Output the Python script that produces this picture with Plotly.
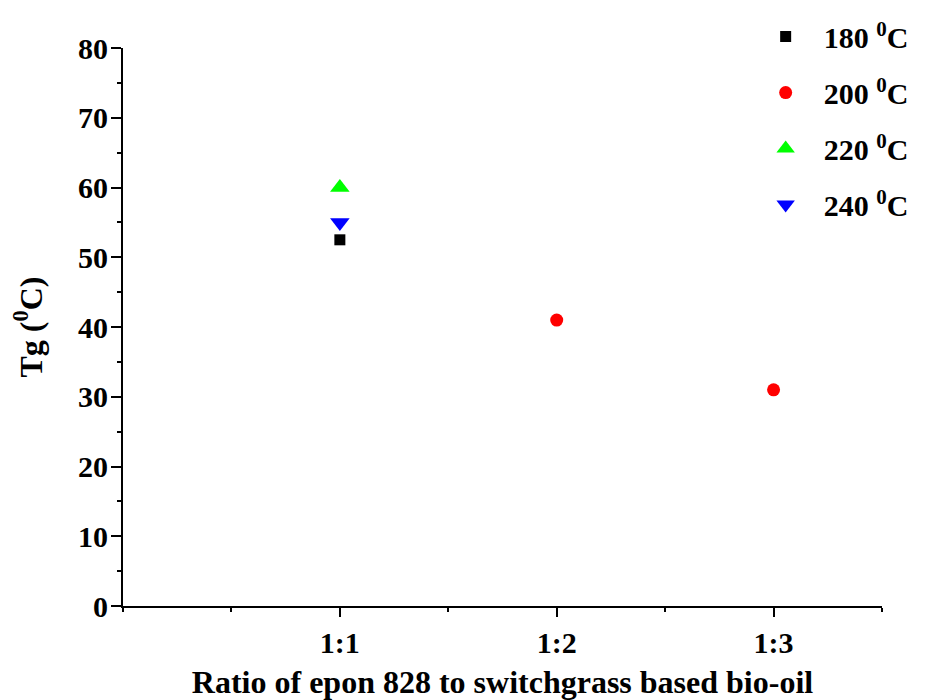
import plotly.graph_objects as go

# Data
ratio_labels = ["1:1", "1:2", "1:3"]
ratio_pos = [1, 2, 3]

series_names = ["180 <sup>0</sup>C", "200 <sup>0</sup>C", "220 <sup>0</sup>C", "240 <sup>0</sup>C"]
series_x = [[1], [2, 3], [1], [1]]
series_y = [[52.5], [41.0, 31.0], [60.0], [55.0]]

colors = ["#000000", "#ff0000", "#00ff00", "#0000ff"]
symbols = ["square", "circle", "triangle-up", "triangle-down"]
sizes = [11, 13, 17, 17]

FONT = "Liberation Serif"

fig = go.Figure()
for i, name in enumerate(series_names):
    fig.add_trace(go.Scatter(
        x=series_x[i], y=series_y[i], mode="markers", name=name,
        legendgroup=f"g{i}",
        marker=dict(color=colors[i], symbol=symbols[i], size=sizes[i], line=dict(width=0)),
    ))

fig.update_layout(
    width=928, height=700,
    margin=dict(l=123, r=46, t=48, b=94, autoexpand=False),
    plot_bgcolor="white", paper_bgcolor="white",
    font=dict(family=FONT, size=30, color="black", weight="bold"),
    showlegend=True,
    legend=dict(
        x=0.823, y=1.067, xanchor="left", yanchor="top",
        font=dict(family=FONT, size=30, color="black", weight="bold"),
        bgcolor="rgba(0,0,0,0)", traceorder="grouped", tracegroupgap=14,
        itemsizing="trace", itemwidth=66,
    ),
    xaxis=dict(
        range=[0, 3.5], tickmode="array", tickvals=ratio_pos, ticktext=ratio_labels,
        showline=True, linecolor="black", linewidth=2, mirror=False,
        ticks="outside", ticklen=9, tickwidth=2, tickcolor="black",
        showgrid=False, zeroline=False, automargin=False,
        minor=dict(dtick=0.5, tick0=0, ticks="outside", ticklen=4, tickwidth=2, tickcolor="black", showgrid=False),
        title=dict(text="Ratio of epon 828 to switchgrass based bio-oil",
                   font=dict(family=FONT, size=32, weight="bold"), standoff=26),
        tickfont=dict(family=FONT, size=30, weight="bold"),
    ),
    yaxis=dict(
        range=[0, 80], dtick=10, tick0=0,
        showline=True, linecolor="black", linewidth=2, mirror=False,
        ticks="outside", ticklen=10, tickwidth=2, tickcolor="black",
        showgrid=False, zeroline=False, automargin=False, ticklabelstandoff=-3,
        minor=dict(dtick=5, tick0=0, ticks="outside", ticklen=4, tickwidth=2, tickcolor="black", showgrid=False),
        title=dict(text="Tg (<sup>0</sup>C)", font=dict(family=FONT, size=32, weight="bold"), standoff=26),
        tickfont=dict(family=FONT, size=30, weight="bold"),
    ),
)

fig.write_html("out.html")
